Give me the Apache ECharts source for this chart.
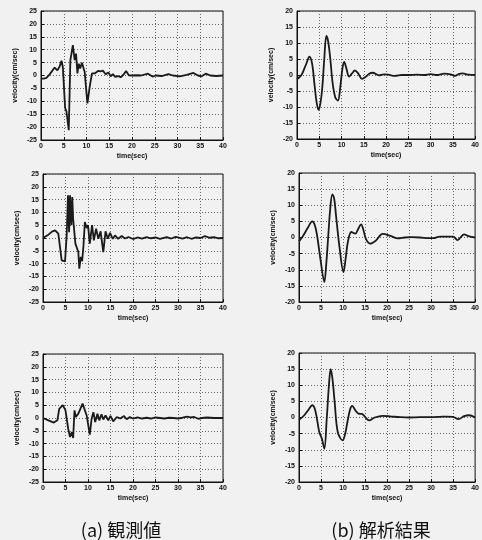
<!DOCTYPE html>
<html>
<head>
<meta charset="utf-8">
<script src="https://cdn.jsdelivr.net/npm/echarts@6/dist/echarts.min.js"></script>
<style>
html,body{margin:0;padding:0;background:#f1f1f1;}
#c{width:482px;height:540px;}
</style>
</head>
<body>
<div id="c"></div>
<script>
// ---- Data ----
const xTicks = [0, 5, 10, 15, 20, 25, 30, 35, 40];
const captions = ['(a) 観測値', '(b) 解析結果'];

// Observed (a), row 1
const obs1T = [0, 0.6, 1.2, 1.8, 2.3, 3.0, 3.6, 4.1, 4.5, 4.8, 5.3, 5.6, 6.1, 6.45, 6.7, 7.0, 7.4, 7.7, 8.0, 8.3, 8.6, 9.0, 9.6, 10.2, 10.7, 11.2, 11.8, 12.2, 12.6, 13.1, 13.6, 14.2, 14.8, 15.3, 15.8, 16.3, 16.9, 17.5, 18.1, 18.7, 19.3, 20, 21, 22, 23.5, 24.5, 25.3, 26.5, 28, 29, 30.5, 32, 33.5, 34.5, 35.3, 36.2, 37.2, 38.5, 40];
const obs1V = [-1.2, -1.2, -0.9, 0.2, 1.4, 3.1, 2.0, 3.5, 5.7, 3.3, -12.5, -14, -21.2, 5.9, 6.6, 11.8, 6.0, 8.5, 0.8, 4.6, 2.7, 4.9, 1.4, -10.8, -4.4, 0.8, 0.8, 0.1, 1.8, 1.6, 1.9, 0.5, 1.2, -0.3, 0.5, -0.5, -0.2, -0.7, 0.3, 1.7, 0.1, 0, 0.1, 0, 0.7, -0.4, 0, -0.2, 0.5, 0, -0.3, 0.2, 1.0, 0, -0.3, 0.7, 0, -0.2, 0];

// Analysis (b), row 1
const sim1T = [0, 1, 2, 2.8, 3.4, 3.9, 4.4, 4.85, 5.3, 5.7, 6.1, 6.6, 7.0, 7.5, 8.0, 8.6, 9.2, 9.7, 10.2, 10.6, 11.1, 11.7, 12.3, 13.0, 13.7, 14.6, 15.5, 16.2, 17.0, 18.4, 19.5, 20.5, 22, 23.5, 25, 27, 28.5, 30, 31.5, 33, 34.5, 35.5, 36.3, 37.2, 38.5, 40];
const sim1V = [-1.3, 0, 3.2, 5.7, 3.5, -2.6, -8.5, -10.9, -8.5, -3.6, 4.5, 12.2, 10.5, 4.7, -2.5, -7, -8, -4, 2, 4.1, 2, -0.5, 0.4, 1.4, 0.6, -1.2, -0.5, 0.4, 0.7, -0.1, 0.2, 0.1, -0.3, 0, 0, 0.1, 0, 0.3, 0, 0.4, 0.2, -0.3, 0.3, 0.5, 0.1, 0];

// Observed (a), row 2
const obs2T = [0, 1.2, 2.0, 2.7, 3.4, 4.15, 4.9, 5.26, 5.55, 5.8, 6.0, 6.3, 6.5, 6.7, 7.2, 7.5, 7.85, 8.07, 8.4, 8.7, 9.0, 9.3, 9.7, 10.0, 10.4, 10.9, 11.3, 11.8, 12.3, 12.8, 13.4, 13.9, 14.4, 14.9, 15.5, 16.0, 16.7, 17.5, 18.2, 19, 20, 21, 22, 23, 24, 25, 26, 27.5, 28.5, 29.5, 31, 32, 33, 34, 35, 36, 37, 38, 39, 40];
const obs2V = [0, 1.3, 2.5, 3.0, 1.7, -8.7, -9.1, 1.0, 16.7, 2.3, 16.7, 5.0, 16.0, 7.5, -2.2, -1.6, -5.5, -12.0, -7.4, -9.1, -2.9, 6.2, 3.9, 5.0, -2.2, 5.0, -0.9, 3.6, -0.3, 2.6, -5.5, 2.6, -0.3, 2.0, -0.3, 1.0, -0.3, 0.8, -0.2, 0.4, -0.4, 0.2, -0.2, 0.3, -0.1, 0.2, -0.3, 0.3, -0.2, 0.4, -0.2, 0.3, -0.3, 0.2, 0, 0.7, 0.1, 0.3, -0.1, 0];

// Analysis (b), row 2
const sim2T = [0, 0.8, 2.0, 3.0, 3.6, 4.1, 4.9, 5.75, 6.2, 6.6, 7.1, 7.57, 8.0, 8.4, 9.2, 10.1, 10.6, 11.1, 11.9, 12.8, 13.4, 14.1, 14.6, 15.2, 16.2, 17.5, 19, 20.8, 22.5, 24, 25.5, 27.5, 29.5, 30.5, 32, 33.5, 35, 36, 37.5, 38.5, 40];
const sim2V = [-1.2, 0.2, 3.0, 5.0, 3.8, 0.7, -7, -13.8, -8, -0.4, 9, 13.4, 12, 6.9, -3, -10.7, -6.5, -1.4, 1.7, 1.2, 2.5, 4.1, 2.5, -0.4, -1.9, -0.9, 1.1, 0.5, -0.3, 0, 0.1, 0, -0.2, -0.2, 0.3, 0.3, 0.3, -0.8, 1.0, 0.4, 0];

// Observed (a), row 3
const obs3T = [0, 1.2, 2.4, 3.2, 3.6, 4.4, 5.0, 5.6, 6.0, 6.4, 6.7, 7.0, 7.3, 7.85, 8.2, 8.8, 9.2, 9.7, 10.4, 10.8, 11.2, 11.6, 12.1, 12.5, 13.0, 13.4, 13.9, 14.5, 15.0, 15.6, 16.4, 17.2, 18.0, 18.6, 19.3, 20, 21, 22, 23, 24, 25, 26, 27, 28, 29, 30, 31, 32, 32.8, 33.6, 34.5, 35.3, 36.5, 38, 40];
const obs3V = [0, -0.9, -1.8, -0.9, 3.6, 5.0, 3.0, -4.2, -7.4, -5.5, -7.8, 3.0, 0.4, 1.7, 1.7, 5.6, 5.0, 1.0, -6.5, -0.3, 2.3, -1.6, 1.7, -0.9, 1.4, -0.6, 1.0, -0.9, 0.8, -1.3, 0.4, -0.2, 0.8, -0.5, 0.4, -0.2, 0.2, -0.2, 0.1, -0.2, 0.2, 0, -0.2, 0.1, 0, -0.2, 0.1, 0.5, 0.2, 0.4, -0.3, 0, 0.2, 0, 0];

// Analysis (b), row 3
const sim3T = [0, 1.2, 2.2, 3.0, 3.7, 4.6, 5.2, 5.75, 6.3, 6.8, 7.2, 7.6, 8.1, 8.8, 9.9, 10.5, 11.0, 11.6, 12.1, 12.8, 13.5, 14.3, 15.0, 15.9, 17.2, 19, 21, 23, 25, 27.5, 30, 32, 33.5, 35, 36.2, 37.5, 38.6, 40];
const sim3V = [-0.7, 0.7, 2.5, 3.8, 2.2, -4.5, -6.6, -9.7, -0.4, 10, 15, 12, 4.8, -4.5, -7.1, -5, -1.4, 2.5, 3.6, 2.2, 1.2, 1.1, 0.2, -0.9, 0, 0.5, 0.3, 0.1, 0, 0.1, 0.1, 0.2, 0.3, 0.2, -0.5, 0.4, 0.7, 0];

// ---- Chart ----
function zip(t, v) { return t.map((x, i) => [x, v[i]]); }

const panels = [
  {t: obs1T, v: obs1V, lim: 25, smooth: false, box: {left: 41, top: 11, width: 182, height: 129}},
  {t: sim1T, v: sim1V, lim: 20, smooth: true,  box: {left: 297, top: 11, width: 184, height: 128}},
  {t: obs2T, v: obs2V, lim: 25, smooth: false, box: {left: 43, top: 174, width: 180, height: 128}},
  {t: sim2T, v: sim2V, lim: 20, smooth: true,  box: {left: 299, top: 173, width: 183, height: 129}},
  {t: obs3T, v: obs3V, lim: 25, smooth: false, box: {left: 43, top: 354, width: 180, height: 128}},
  {t: sim3T, v: sim3V, lim: 20, smooth: true,  box: {left: 299, top: 353, width: 183, height: 129}}
];

const FONT = "'Liberation Sans', Arial, sans-serif";
const lbl = {fontSize: 7, fontWeight: 'bold', color: '#111', fontFamily: FONT};
const split = {show: true, lineStyle: {color: '#666', type: [1, 2], width: 1}};

const grids = [], xAxes = [], yAxes = [], series = [];
panels.forEach((p, i) => {
  grids.push(Object.assign({show: true, borderColor: '#111', borderWidth: 1, backgroundColor: 'transparent'}, p.box));
  xAxes.push({
    type: 'value', gridIndex: i, min: xTicks[0], max: xTicks[xTicks.length - 1], interval: 5,
    name: 'time(sec)', nameLocation: 'middle', nameGap: 13,
    nameTextStyle: Object.assign({}, lbl),
    axisLine: {show: true, onZero: false, lineStyle: {color: '#111', width: 1}},
    axisTick: {show: true, inside: true, length: 3, lineStyle: {color: '#111'}},
    axisLabel: Object.assign({margin: 3}, lbl),
    splitLine: split
  });
  yAxes.push({
    type: 'value', gridIndex: i, min: -p.lim, max: p.lim, interval: 5,
    name: 'velocity(cm/sec)', nameLocation: 'middle', nameGap: 22,
    nameTextStyle: Object.assign({}, lbl),
    axisLine: {show: true, onZero: false, lineStyle: {color: '#111', width: 1}},
    axisTick: {show: true, inside: true, length: 3, lineStyle: {color: '#111'}},
    axisLabel: Object.assign({margin: 4}, lbl),
    splitLine: split
  });
  series.push({
    type: 'line', xAxisIndex: i, yAxisIndex: i, data: zip(p.t, p.v),
    showSymbol: false, smooth: p.smooth ? 0.35 : false, clip: true,
    lineStyle: {color: '#1a1a1a', width: 1.8}, animation: false
  });
});

const capStyle = {fontSize: 18, fill: '#111', fontFamily: "'Noto Sans CJK JP', sans-serif", align: 'center', verticalAlign: 'middle'};
const chart = echarts.init(document.getElementById('c'), null, {renderer: 'canvas'});
chart.setOption({
  backgroundColor: '#f1f1f1',
  animation: false,
  grid: grids, xAxis: xAxes, yAxis: yAxes, series: series,
  graphic: [
    {type: 'text', x: 121, y: 530, style: Object.assign({text: captions[0]}, capStyle)},
    {type: 'text', x: 381, y: 530, style: Object.assign({text: captions[1]}, capStyle)}
  ]
});
</script>
</body>
</html>
